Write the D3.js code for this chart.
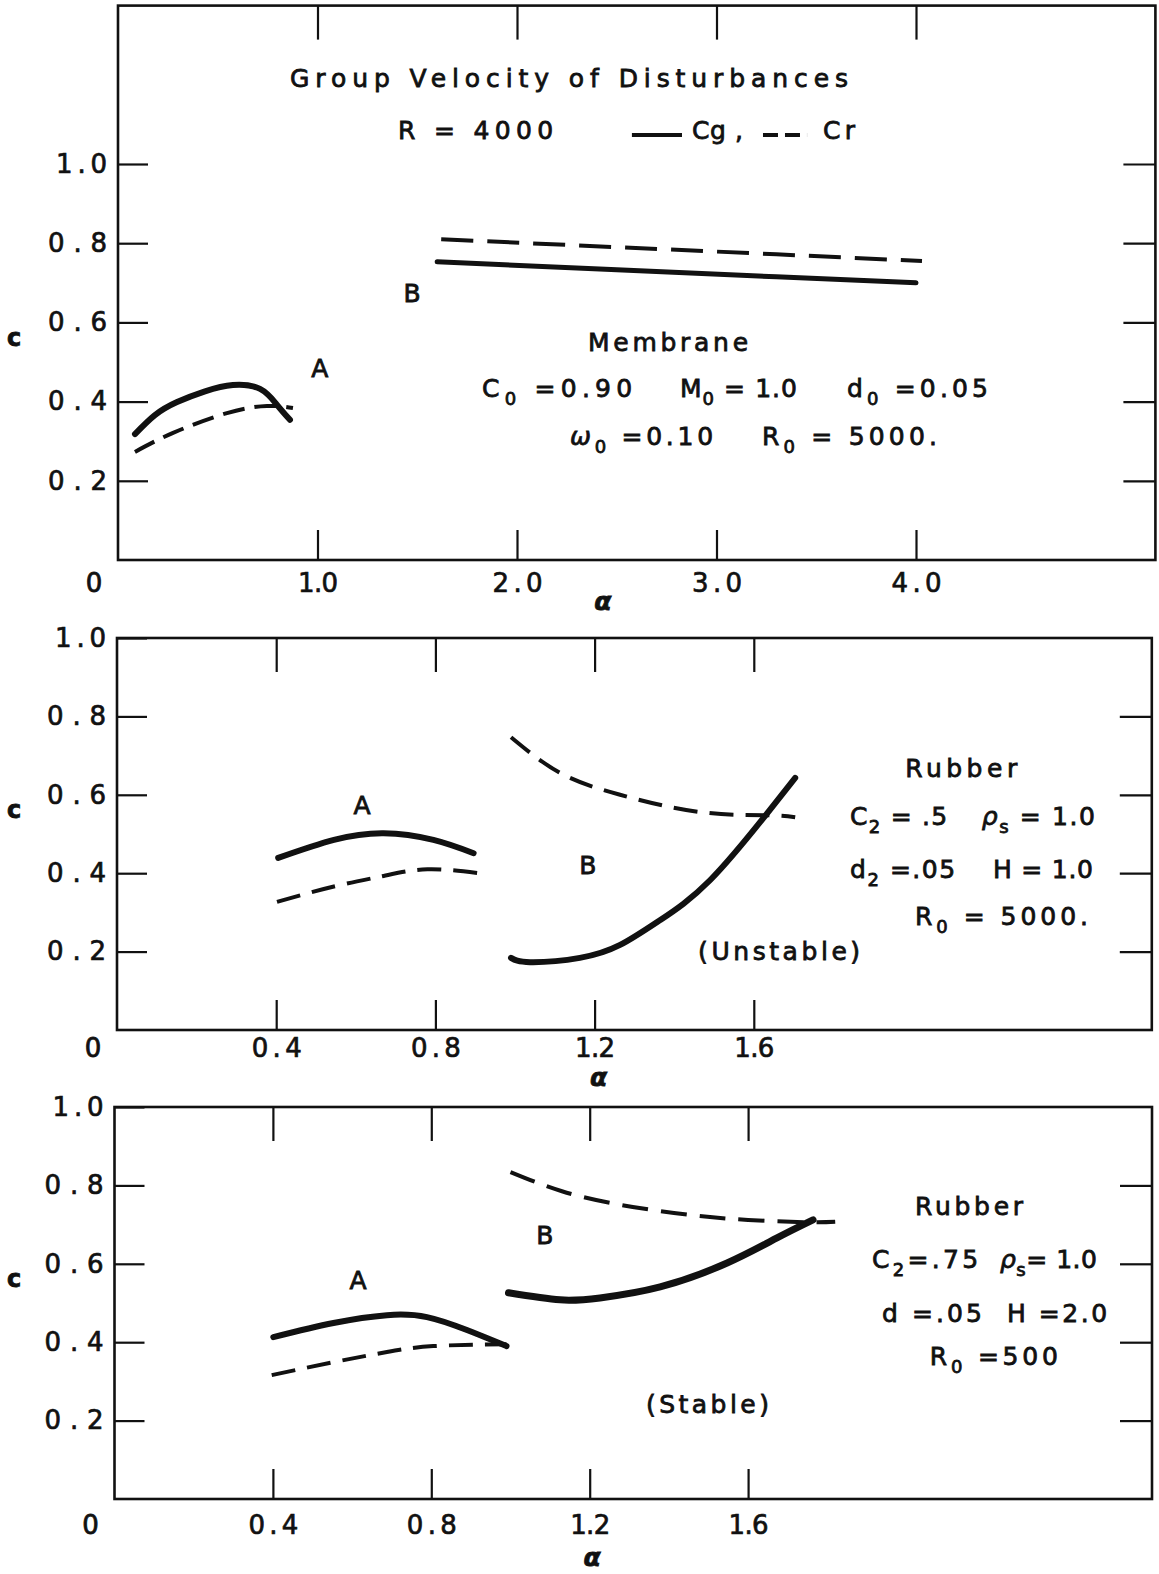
<!DOCTYPE html>
<html>
<head>
<meta charset="utf-8">
<script src="https://cdn.jsdelivr.net/npm/d3@7"></script>
<style>
    body { margin: 0; background: #fff; }
    svg { display: block; }
</style>
</head>
<body>
<div id="container"></div>
<script>
// ---- values (alpha, c) ----
// membrane, R = 4000
const memACgAlpha = [0.085, 0.185, 0.296, 0.436, 0.576, 0.712, 0.797, 0.862];
const memACg      = [0.318, 0.366, 0.399, 0.426, 0.442, 0.432, 0.392, 0.354];
const memACrAlpha = [0.085, 0.276, 0.546, 0.747, 0.877];
const memACr      = [0.273, 0.321, 0.371, 0.389, 0.384];
const memBCgAlpha = [1.6, 2.5, 3.3, 4.0];
const memBCg      = [0.753, 0.733, 0.715, 0.700];
const memBCrAlpha = [1.62, 2.5, 3.3, 4.03];
const memBCr      = [0.810, 0.790, 0.772, 0.755];

// rubber, unstable
const unsACgAlpha = [0.405, 0.545, 0.67, 0.795, 0.896];
const unsACg      = [0.439, 0.485, 0.502, 0.485, 0.451];
const unsACrAlpha = [0.402, 0.545, 0.67, 0.78, 0.91];
const unsACr      = [0.327, 0.366, 0.393, 0.41, 0.40];
const unsBCgAlpha = [0.99, 1.038, 1.163, 1.264, 1.364, 1.49, 1.633, 1.704];
const unsBCg      = [0.184, 0.173, 0.184, 0.217, 0.280, 0.382, 0.552, 0.643];
const unsBCrAlpha = [0.99, 1.113, 1.264, 1.465, 1.633, 1.704];
const unsBCr      = [0.747, 0.656, 0.600, 0.556, 0.548, 0.543];

// rubber, stable
const stbACgAlpha = [0.401, 0.553, 0.688, 0.789, 0.89, 0.99];
const stbACg      = [0.413, 0.449, 0.469, 0.464, 0.431, 0.39];
const stbACrAlpha = [0.397, 0.553, 0.688, 0.805, 0.99];
const stbACr      = [0.316, 0.349, 0.375, 0.39, 0.395];
const stbBCgAlpha = [0.995, 1.125, 1.226, 1.378, 1.547, 1.673, 1.764];
const stbBCg      = [0.526, 0.508, 0.513, 0.541, 0.602, 0.666, 0.712];
const stbBCrAlpha = [1.0, 1.13, 1.28, 1.45, 1.6, 1.75, 1.82];
const stbBCr      = [0.834, 0.785, 0.75, 0.725, 0.712, 0.706, 0.707];

// ticks
const memXTicks = [1, 2, 3, 4];
const rubXTicks = [0.4, 0.8, 1.2, 1.6];
const cTicks = [0.2, 0.4, 0.6, 0.8, 1.0];
const memSideTicks = [0.2, 0.4, 0.6, 0.8, 1.0];
const rubSideTicks = [0.2, 0.4, 0.6, 0.8];

const FONT = "'DejaVu Sans', 'Liberation Sans', sans-serif";
const INK = '#111';

const svg = d3.select('#container')
    .append('svg')
    .attr('width', 1159)
    .attr('height', 1574)
    .style('background-color', '#ffffff');

// annotation parts: [text, subscript?, italic?]
const panels = [
    {
        xMax: 5.2, xRange: [118, 1155.4], cMax: 1.4, yRange: [560, 5.6],
        xTicks: memXTicks, sideTicks: memSideTicks, labelPad: 14, alphaAt: 2.43, alphaDy: 50,
        curves: [
            [memACgAlpha, memACg, 6, null],
            [memACrAlpha, memACr, 4, '22,10'],
            [memBCgAlpha, memBCg, 5, null],
            [memBCrAlpha, memBCr, 4, '32,14'],
        ],
        notes: [
            {a: 2.261, c: 1.194, anchor: 'middle', len: 558, parts: [['Group Velocity of Disturbances']]},
            {a: 1.404, c: 1.063, anchor: 'start', len: 155, parts: [['R = 4000']]},
            {a: 2.877, c: 1.063, anchor: 'start', len: 51, parts: [['Cg ,']]},
            {a: 3.534, c: 1.063, anchor: 'start', len: 32, parts: [['Cr']]},
            {a: 1.474, c: 0.652, anchor: 'middle', parts: [['B']]},
            {a: 1.012, c: 0.462, anchor: 'middle', parts: [['A']]},
            {a: 2.757, c: 0.528, anchor: 'middle', len: 160, parts: [['Membrane']]},
            {a: 1.825, c: 0.412, anchor: 'start', len: 150, parts: [['C'], ['0', true], [' =0.90']]},
            {a: 2.817, c: 0.412, anchor: 'start', len: 117, parts: [['M'], ['0', true], [' = 1.0']]},
            {a: 3.654, c: 0.412, anchor: 'start', len: 141, parts: [['d'], ['0', true], [' =0.05']]},
            {a: 2.266, c: 0.290, anchor: 'start', len: 143, parts: [['ω', false, true], ['0', true], [' =0.10']]},
            {a: 3.228, c: 0.290, anchor: 'start', len: 175, parts: [['R'], ['0', true], [' = 5000.']]},
        ],
        legend: {c: 1.073, solid: [2.576, 2.827], dashed: [3.233, 3.454]},
    },
    {
        xMax: 2.6, xRange: [117, 1151.8], cMax: 1.0, yRange: [1030, 638],
        xTicks: rubXTicks, sideTicks: rubSideTicks, labelPad: 9, alphaAt: 1.21, alphaDy: 56,
        curves: [
            [unsACgAlpha, unsACg, 6, null],
            [unsACrAlpha, unsACr, 4, '24,12'],
            [unsBCgAlpha, unsBCg, 6, null],
            [unsBCrAlpha, unsBCr, 4, '24,12'],
        ],
        notes: [
            {a: 0.616, c: 0.551, anchor: 'middle', parts: [['A']]},
            {a: 1.183, c: 0.398, anchor: 'middle', parts: [['B']]},
            {a: 2.121, c: 0.645, anchor: 'middle', len: 112, parts: [['Rubber']]},
            {a: 1.842, c: 0.523, anchor: 'start', len: 97, parts: [['C'], ['2', true], [' = .5']]},
            {a: 2.173, c: 0.523, anchor: 'start', len: 113, parts: [['ρ', false, true], ['s', true], [' = 1.0']]},
            {a: 1.842, c: 0.388, anchor: 'start', len: 105, parts: [['d'], ['2', true], [' =.05']]},
            {a: 2.201, c: 0.388, anchor: 'start', len: 100, parts: [['H = 1.0']]},
            {a: 2.005, c: 0.268, anchor: 'start', len: 173, parts: [['R'], ['0', true], [' = 5000.']]},
            {a: 1.46, c: 0.179, anchor: 'start', len: 162, parts: [['(Unstable)']]},
        ],
    },
    {
        xMax: 2.62, xRange: [114.5, 1152], cMax: 1.0, yRange: [1499, 1107],
        xTicks: rubXTicks, sideTicks: rubSideTicks, labelPad: 17, alphaAt: 1.206, alphaDy: 67,
        curves: [
            [stbACgAlpha, stbACg, 6, null],
            [stbACrAlpha, stbACr, 4, '24,12'],
            [stbBCgAlpha, stbBCg, 7, null],
            [stbBCrAlpha, stbBCr, 4, '26,13'],
        ],
        notes: [
            {a: 0.615, c: 0.536, anchor: 'middle', parts: [['A']]},
            {a: 1.087, c: 0.65, anchor: 'middle', parts: [['B']]},
            {a: 2.158, c: 0.724, anchor: 'middle', len: 108, parts: [['Rubber']]},
            {a: 1.913, c: 0.589, anchor: 'start', len: 106, parts: [['C'], ['2', true], ['=.75']]},
            {a: 2.236, c: 0.589, anchor: 'start', len: 97, parts: [['ρ', false, true], ['s', true], ['= 1.0']]},
            {a: 1.938, c: 0.452, anchor: 'start', len: 100, parts: [['d =.05']]},
            {a: 2.254, c: 0.452, anchor: 'start', len: 100, parts: [['H =2.0']]},
            {a: 2.059, c: 0.342, anchor: 'start', len: 128, parts: [['R'], ['0', true], [' =500']]},
            {a: 1.342, c: 0.219, anchor: 'start', len: 123, parts: [['(Stable)']]},
        ],
    },
];

const fmt = d3.format('.1f');

function addParts(text, parts) {
    let low = false;
    parts.forEach(([s, sub, it]) => {
        const t = text.append('tspan').text(s);
        if (sub) {
            t.style('font-size', '18px');
            if (!low) { t.attr('dy', 8); low = true; }
        } else if (low) {
            t.attr('dy', -8);
            low = false;
        }
        if (it) t.style('font-style', 'italic');
    });
}

panels.forEach(p => {
    const x = d3.scaleLinear().domain([0, p.xMax]).range(p.xRange);
    const y = d3.scaleLinear().domain([0, p.cMax]).range(p.yRange);
    const g = svg.append('g');
    const [xl, xr] = x.range();
    const [yb, yt] = y.range();

    // frame
    g.append('rect')
        .attr('x', xl).attr('y', yt)
        .attr('width', xr - xl).attr('height', yb - yt)
        .attr('fill', 'none')
        .attr('stroke', INK)
        .attr('stroke-width', 2.6);

    const styleAxis = sel => {
        sel.select('.domain').remove();
        sel.selectAll('.tick line').attr('stroke', INK).attr('stroke-width', 2.2);
        sel.selectAll('.tick text')
            .attr('fill', INK)
            .style('font-family', FONT)
            .style('font-size', '26px')
            .attr('stroke', INK)
            .attr('stroke-width', 0.7);
    };

    // bottom ticks (inward) with labels
    g.append('g')
        .attr('transform', `translate(0,${yb})`)
        .call(d3.axisBottom(x).tickValues(p.xTicks).tickSize(-30).tickPadding(p.labelPad).tickFormat(fmt))
        .call(styleAxis)
        .call(s => s.selectAll('.tick text')
            .attr('textLength', d => fmt(d).startsWith('1') ? 40 : 50)
            .attr('lengthAdjust', 'spacing'));

    // top ticks
    g.append('g')
        .attr('transform', `translate(0,${yt})`)
        .call(d3.axisTop(x).tickValues(p.xTicks).tickSize(-34).tickFormat(''))
        .call(styleAxis);

    // left ticks with labels
    g.append('g')
        .attr('transform', `translate(${xl},0)`)
        .call(d3.axisLeft(y).tickValues(cTicks).tickSize(-30).tickPadding(11).tickFormat(fmt))
        .call(styleAxis)
        .call(s => s.selectAll('.tick text')
            .attr('textLength', d => fmt(d).startsWith('1') ? 51 : 59)
            .attr('lengthAdjust', 'spacing'));

    // right ticks
    g.append('g')
        .attr('transform', `translate(${xr},0)`)
        .call(d3.axisRight(y).tickValues(p.sideTicks).tickSize(-32).tickFormat(''))
        .call(styleAxis);

    // origin "0", axis names
    g.append('text')
        .attr('x', x(0) - 24).attr('y', yb + p.labelPad + 18)
        .attr('text-anchor', 'middle')
        .style('font-size', '26px')
        .text('0');
    g.append('text')
        .attr('x', 14).attr('y', y(0.56) + 8)
        .attr('text-anchor', 'middle')
        .style('font-size', '24px')
        .style('font-weight', 'bold')
        .text('c');
    g.append('text')
        .attr('x', x(p.alphaAt)).attr('y', yb + p.alphaDy)
        .attr('text-anchor', 'middle')
        .style('font-size', '25px')
        .style('font-weight', 'bold')
        .style('font-style', 'italic')
        .text('α');

    // curves
    const line = d3.line()
        .x(d => x(d[0]))
        .y(d => y(d[1]))
        .curve(d3.curveNatural);
    p.curves.forEach(([al, cv, w, dash]) => {
        g.append('path')
            .attr('d', line(d3.zip(al, cv)))
            .attr('fill', 'none')
            .attr('stroke', INK)
            .attr('stroke-width', w)
            .attr('stroke-linecap', dash ? 'butt' : 'round')
            .attr('stroke-dasharray', dash);
    });

    // legend key (top panel only)
    if (p.legend) {
        g.append('line')
            .attr('x1', x(p.legend.solid[0])).attr('x2', x(p.legend.solid[1]))
            .attr('y1', y(p.legend.c)).attr('y2', y(p.legend.c))
            .attr('stroke', INK).attr('stroke-width', 4);
        g.append('line')
            .attr('x1', x(p.legend.dashed[0])).attr('x2', x(p.legend.dashed[1]))
            .attr('y1', y(p.legend.c)).attr('y2', y(p.legend.c))
            .attr('stroke', INK).attr('stroke-width', 4)
            .attr('stroke-dasharray', '15,7');
    }

    // annotations
    p.notes.forEach(n => {
        const t = g.append('text')
            .attr('x', x(n.a)).attr('y', y(n.c))
            .attr('text-anchor', n.anchor)
            .style('white-space', 'pre');
        if (n.len) t.attr('textLength', n.len).attr('lengthAdjust', 'spacing');
        addParts(t, n.parts);
    });

    g.selectAll(':scope > text')
        .attr('fill', INK)
        .attr('stroke', INK)
        .attr('stroke-width', 0.8)
        .style('font-family', FONT)
        .style('font-size', function () { return this.style.fontSize || '25px'; });
});
</script>
</body>
</html>
